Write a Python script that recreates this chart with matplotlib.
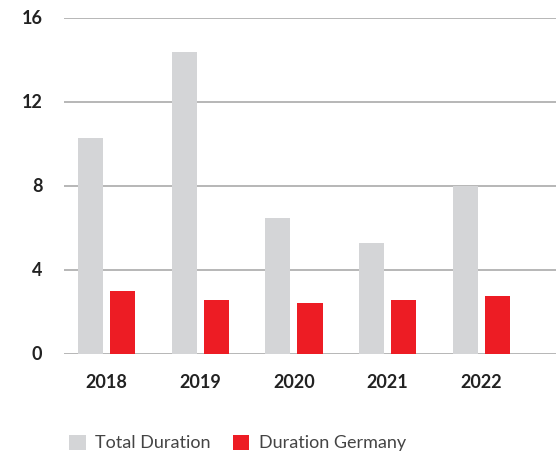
import numpy as np
import matplotlib.pyplot as plt
from matplotlib.patches import Patch

years = ["2018", "2019", "2020", "2021", "2022"]
total_duration = [10.3, 14.4, 6.5, 5.3, 8.0]
duration_germany = [3.0, 2.6, 2.45, 2.6, 2.8]
y_ticks = [0, 4, 8, 12, 16]

gray = "#d4d5d7"
red = "#ed1c24"

plt.rcParams["font.family"] = ["Lato", "DejaVu Sans"]

fig = plt.figure(figsize=(5.56, 4.55), dpi=100)
ax = fig.add_axes([64 / 556, 100.7 / 455, 1 - 64 / 556, (354.3 - 18.3) / 455])

x = np.arange(len(years))
w = 0.267
ax.bar(x - 0.171, total_duration, width=w, color=gray, zorder=2, label="Total Duration")
ax.bar(x + 0.171, duration_germany, width=w, color=red, zorder=2, label="Duration Germany")

ax.set_xlim(-0.453, 4.795)
ax.set_ylim(0, 16)
ax.set_yticks(y_ticks)
ax.set_yticklabels([str(t) for t in y_ticks], fontsize=13, fontweight="bold", color="#222222")
ax.set_xticks(x)
ax.set_xticklabels(years, fontsize=13, fontweight="bold", color="#222222")
ax.tick_params(axis="y", length=0, pad=15.5)
ax.tick_params(axis="x", length=0, pad=14)
for lab in ax.get_yticklabels():
    lab.set_verticalalignment("center")

ax.grid(axis="y", color="#a3a3a3", linewidth=1.1, zorder=1)
for s in ax.spines.values():
    s.set_visible(False)

handles = [Patch(facecolor=gray, edgecolor="none"), Patch(facecolor=red, edgecolor="none")]
fig.legend(handles, ["Total Duration", "Duration Germany"], loc="center left",
           bbox_to_anchor=(53 / 556, 1 - 443 / 455), ncol=2, frameon=False,
           fontsize=13, handlelength=0.9, handleheight=0.9, handletextpad=0.55,
           columnspacing=1.2, labelcolor="#444444")

fig.savefig("out.png", dpi=100)
